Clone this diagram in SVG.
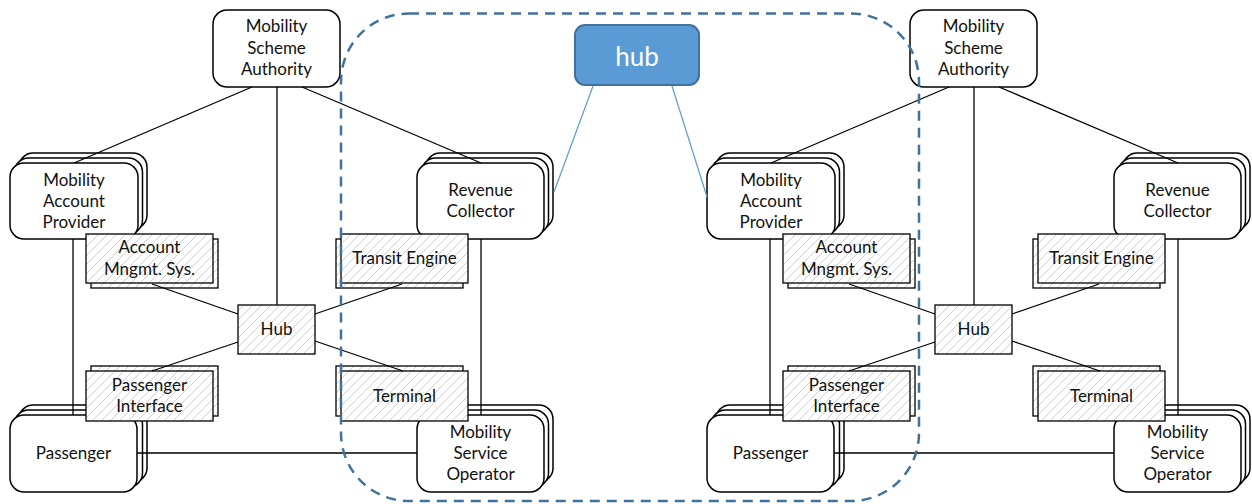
<svg xmlns="http://www.w3.org/2000/svg" xmlns:xlink="http://www.w3.org/1999/xlink" width="1252" height="504" viewBox="0 0 1252 504">
<style>
.n{fill:#fff;stroke:#000;stroke-width:1.5}
.h{fill:url(#hatch);stroke:#000;stroke-width:1.3}
.t{font-family:Lato,"Liberation Sans",sans-serif;font-size:17px;text-anchor:middle;fill:#111}
.c{stroke:#000;stroke-width:1.3;fill:none}
.b{stroke:#5B9BD5;stroke-width:1.2;fill:none}
</style>
<defs>
<pattern id="hatch" patternUnits="userSpaceOnUse" width="9" height="9">
<rect width="9" height="9" fill="#fff"/>
<path d="M0,9 L9,0 M-1,1 L1,-1 M8,10 L10,8" stroke="#cfcfcf" stroke-width="1"/>
</pattern>
</defs>
<rect width="1252" height="504" fill="#fff"/>

<g id="cluster-left">
<g id="msa-1"><rect class="n" x="213" y="10" width="127" height="77" rx="14"/><text class="t" x="276.5" y="32">Mobility</text><text class="t" x="276.5" y="53.5">Scheme</text><text class="t" x="276.5" y="75">Authority</text></g>
<g id="map-1"><rect class="n" x="19" y="153" width="128" height="76" rx="14"/><rect class="n" x="14.5" y="158" width="128" height="76" rx="14"/><rect class="n" x="10" y="163" width="128" height="76" rx="14"/><text class="t" x="74" y="186">Mobility</text><text class="t" x="74" y="207">Account</text><text class="t" x="74" y="228">Provider</text></g>
<g id="rc-1"><rect class="n" x="426" y="153" width="127" height="76" rx="14"/><rect class="n" x="421.5" y="158" width="127" height="76" rx="14"/><rect class="n" x="417" y="163" width="127" height="76" rx="14"/><text class="t" x="480.5" y="196">Revenue</text><text class="t" x="480.5" y="217">Collector</text></g>
<g id="pax-1"><rect class="n" x="19" y="405" width="128" height="77" rx="14"/><rect class="n" x="14.5" y="410" width="128" height="77" rx="14"/><rect class="n" x="10" y="415" width="127" height="77" rx="14"/><text class="t" x="73.5" y="459">Passenger</text></g>
<g id="mso-1"><rect class="n" x="426" y="405" width="127" height="77" rx="14"/><rect class="n" x="421.5" y="410" width="127" height="77" rx="14"/><rect class="n" x="417" y="415" width="127" height="77" rx="14"/><text class="t" x="480.5" y="438">Mobility</text><text class="t" x="480.5" y="459">Service</text><text class="t" x="480.5" y="480">Operator</text></g>
<g id="ams-1"><rect class="h" x="91" y="239" width="127" height="49"/><rect class="h" x="86" y="234" width="127" height="49"/><text class="t" x="149.5" y="253">Account</text><text class="t" x="149.5" y="275">Mngmt. Sys.</text></g>
<g id="te-1"><rect class="h" x="336" y="239" width="127" height="49"/><rect class="h" x="341" y="234" width="127" height="49"/><text class="t" x="404.5" y="264">Transit Engine</text></g>
<g id="pi-1"><rect class="h" x="91" y="366" width="127" height="50"/><rect class="h" x="86" y="371" width="127" height="50"/><text class="t" x="149.5" y="391">Passenger</text><text class="t" x="149.5" y="412">Interface</text></g>
<g id="term-1"><rect class="h" x="336" y="366" width="127" height="50"/><rect class="h" x="341" y="371" width="127" height="50"/><text class="t" x="404.5" y="402">Terminal</text></g>
<g id="hub-1"><rect class="h" x="238" y="305" width="77" height="49"/><text class="t" x="276.5" y="335">Hub</text></g>
<g id="conn-1">
<line class="c" x1="252" y1="87" x2="74" y2="163"/>
<line class="c" x1="277" y1="87" x2="277" y2="305"/>
<line class="c" x1="302" y1="87" x2="481" y2="163"/>
<line class="c" x1="73" y1="239" x2="73" y2="415"/>
<line class="c" x1="481" y1="239" x2="481" y2="415"/>
<line class="c" x1="137" y1="453" x2="417" y2="453"/>
<line class="c" x1="238" y1="314" x2="152" y2="284"/>
<line class="c" x1="315" y1="314" x2="402" y2="284"/>
<line class="c" x1="238" y1="342" x2="152" y2="371"/>
<line class="c" x1="315" y1="341" x2="403" y2="371"/>
</g>
</g>

<g id="cluster-right" transform="translate(697,0)">
<g id="msa-2"><rect class="n" x="213" y="10" width="127" height="77" rx="14"/><text class="t" x="276.5" y="32">Mobility</text><text class="t" x="276.5" y="53.5">Scheme</text><text class="t" x="276.5" y="75">Authority</text></g>
<g id="map-2"><rect class="n" x="19" y="153" width="128" height="76" rx="14"/><rect class="n" x="14.5" y="158" width="128" height="76" rx="14"/><rect class="n" x="10" y="163" width="128" height="76" rx="14"/><text class="t" x="74" y="186">Mobility</text><text class="t" x="74" y="207">Account</text><text class="t" x="74" y="228">Provider</text></g>
<g id="rc-2"><rect class="n" x="426" y="153" width="127" height="76" rx="14"/><rect class="n" x="421.5" y="158" width="127" height="76" rx="14"/><rect class="n" x="417" y="163" width="127" height="76" rx="14"/><text class="t" x="480.5" y="196">Revenue</text><text class="t" x="480.5" y="217">Collector</text></g>
<g id="pax-2"><rect class="n" x="19" y="405" width="128" height="77" rx="14"/><rect class="n" x="14.5" y="410" width="128" height="77" rx="14"/><rect class="n" x="10" y="415" width="127" height="77" rx="14"/><text class="t" x="73.5" y="459">Passenger</text></g>
<g id="mso-2"><rect class="n" x="426" y="405" width="127" height="77" rx="14"/><rect class="n" x="421.5" y="410" width="127" height="77" rx="14"/><rect class="n" x="417" y="415" width="127" height="77" rx="14"/><text class="t" x="480.5" y="438">Mobility</text><text class="t" x="480.5" y="459">Service</text><text class="t" x="480.5" y="480">Operator</text></g>
<g id="ams-2"><rect class="h" x="91" y="239" width="127" height="49"/><rect class="h" x="86" y="234" width="127" height="49"/><text class="t" x="149.5" y="253">Account</text><text class="t" x="149.5" y="275">Mngmt. Sys.</text></g>
<g id="te-2"><rect class="h" x="336" y="239" width="127" height="49"/><rect class="h" x="341" y="234" width="127" height="49"/><text class="t" x="404.5" y="264">Transit Engine</text></g>
<g id="pi-2"><rect class="h" x="91" y="366" width="127" height="50"/><rect class="h" x="86" y="371" width="127" height="50"/><text class="t" x="149.5" y="391">Passenger</text><text class="t" x="149.5" y="412">Interface</text></g>
<g id="term-2"><rect class="h" x="336" y="366" width="127" height="50"/><rect class="h" x="341" y="371" width="127" height="50"/><text class="t" x="404.5" y="402">Terminal</text></g>
<g id="hub-2"><rect class="h" x="238" y="305" width="77" height="49"/><text class="t" x="276.5" y="335">Hub</text></g>
<g id="conn-2">
<line class="c" x1="252" y1="87" x2="74" y2="163"/>
<line class="c" x1="277" y1="87" x2="277" y2="305"/>
<line class="c" x1="302" y1="87" x2="481" y2="163"/>
<line class="c" x1="73" y1="239" x2="73" y2="415"/>
<line class="c" x1="481" y1="239" x2="481" y2="415"/>
<line class="c" x1="137" y1="453" x2="417" y2="453"/>
<line class="c" x1="238" y1="314" x2="152" y2="284"/>
<line class="c" x1="315" y1="314" x2="402" y2="284"/>
<line class="c" x1="238" y1="342" x2="152" y2="371"/>
<line class="c" x1="315" y1="341" x2="403" y2="371"/>
</g>
</g>

<g id="connectors-hub">
<line class="b" x1="593" y1="86" x2="554" y2="192"/>
<line class="b" x1="672" y1="86" x2="707" y2="197"/>
</g>

<g id="boundary">
<rect x="341" y="13.5" width="578" height="487.5" rx="68" fill="none" stroke="#41719C" stroke-width="2.5" stroke-dasharray="10 7"/>
</g>

<g id="hub-main">
<rect x="575" y="25" width="124" height="60" rx="10" fill="#5B9BD5" stroke="#41719C" stroke-width="2"/>
<text x="637" y="66" font-family="Lato,'Liberation Sans',sans-serif" font-size="26" text-anchor="middle" fill="#fff">hub</text>
</g>
</svg>
